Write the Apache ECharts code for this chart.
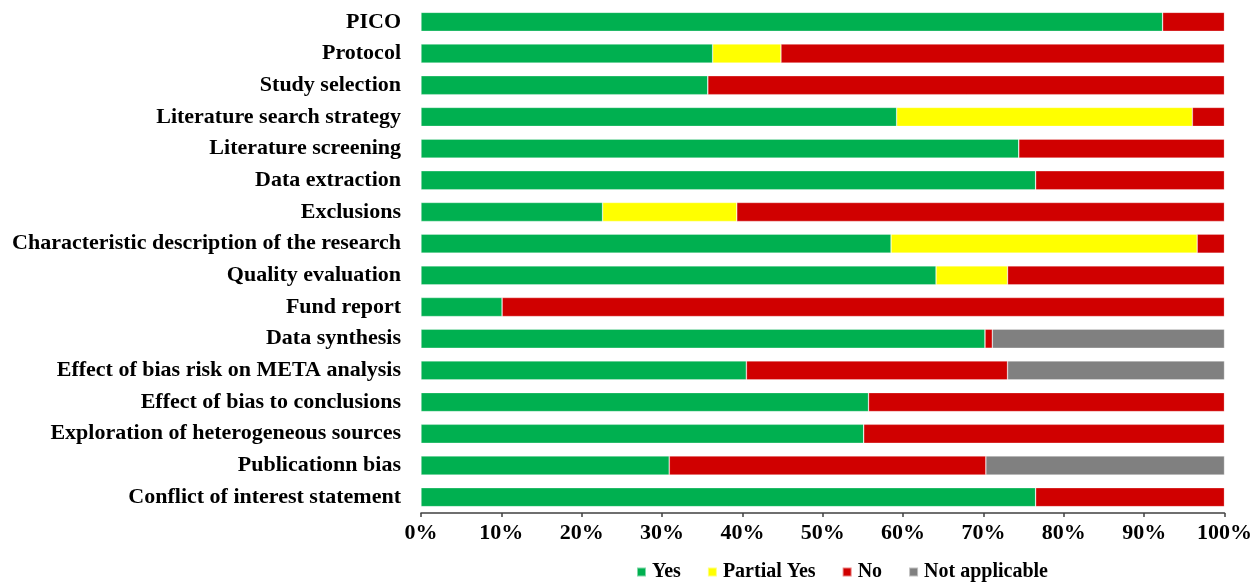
<!DOCTYPE html>
<html>
<head>
<meta charset="utf-8">
<script src="https://cdn.jsdelivr.net/npm/echarts@6/dist/echarts.min.js"></script>
<style>html,body{margin:0;padding:0;background:#fff;}#c{width:1255px;height:582px;}</style>
</head>
<body>
<div id="c"></div>
<script>
var categories = ["PICO", "Protocol", "Study selection", "Literature search strategy", "Literature screening", "Data extraction", "Exclusions", "Characteristic description of the research", "Quality evaluation", "Fund report", "Data synthesis", "Effect of bias risk on META analysis", "Effect of bias to conclusions", "Exploration of heterogeneous sources", "Publicationn bias", "Conflict of interest statement"];
var yes     = [92.3, 36.3, 35.7, 59.2, 74.4, 76.5, 22.6, 58.5, 64.1, 10.1, 70.2, 40.5, 55.7, 55.1, 30.9, 76.5];
var partial = [0, 8.5, 0, 36.8, 0, 0, 16.7, 38.1, 8.9, 0, 0, 0, 0, 0, 0, 0];
var no      = [7.7, 55.2, 64.3, 4.0, 25.6, 23.5, 60.7, 3.4, 27.0, 89.9, 0.9, 32.5, 44.3, 44.9, 39.4, 23.5];
var notApplicable = [0, 0, 0, 0, 0, 0, 0, 0, 0, 0, 28.9, 27.0, 0, 0, 29.7, 0];
var seriesNames = ["Yes", "Partial Yes", "No", "Not applicable"];
var colors = ["#00B050", "#FFFF00", "#D00000", "#808080"];

var font = "'Liberation Serif', 'Times New Roman', serif";
var chart = echarts.init(document.getElementById('c'));
var data = [yes, partial, no, notApplicable];
var series = data.map(function (d, i) {
  return {
    name: seriesNames[i],
    type: 'bar',
    stack: 'total',
    barWidth: 19,
    data: d,
    itemStyle: { color: colors[i], borderColor: 'rgba(255,255,255,0.5)', borderWidth: 0.6 }
  };
});
chart.setOption({
  animation: false,
  color: colors,
  grid: { left: 421, right: 29, top: 6, bottom: 69, containLabel: false },
  legend: {
    data: seriesNames,
    left: 636,
    top: 562,
    padding: 0,
    icon: 'rect',
    itemWidth: 9,
    itemHeight: 9,
    itemGap: 26,
    textStyle: { fontFamily: font, fontWeight: 'bold', fontSize: 20, color: '#000', padding: [0, 0, 0, 1] }
  },
  xAxis: {
    type: 'value',
    min: 0,
    max: 100,
    interval: 10,
    axisLine: { show: true, lineStyle: { color: '#404040', width: 1.5 } },
    axisTick: { show: true, length: 4, lineStyle: { color: '#404040', width: 1.5 } },
    splitLine: { show: false },
    axisLabel: { formatter: '{value}%', fontFamily: font, fontWeight: 'bold', fontSize: 22, color: '#000', margin: 9 }
  },
  yAxis: {
    type: 'category',
    data: categories,
    inverse: true,
    axisLine: { show: false },
    axisTick: { show: false },
    axisLabel: { fontFamily: font, fontWeight: 'bold', fontSize: 22, color: '#000', margin: 20 }
  },
  series: series
});
</script>
</body>
</html>
